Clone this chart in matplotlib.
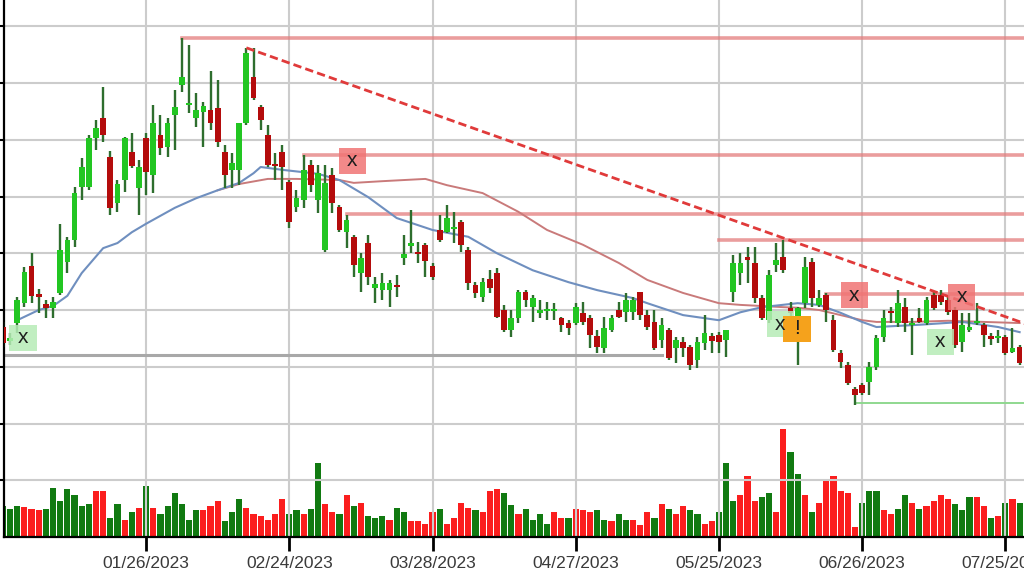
import matplotlib.pyplot as plt
from matplotlib.patches import Rectangle
import numpy as np

plt.rcParams['font.family'] = ['Liberation Sans', 'DejaVu Sans']

# daily candles, one per trading day (bar index = x position)
opens = [13.70, 13.45, 13.77, 14.12, 14.78, 14.28, 14.11, 14.04, 14.30, 14.85,
         15.23, 16.17, 16.17, 17.03, 17.38, 16.70, 15.89, 16.29, 16.78, 16.15,
         17.03, 16.38, 17.08, 16.87, 17.44, 17.96, 17.61, 17.38, 17.49, 17.52,
         17.56, 16.78, 16.47, 16.47, 17.30, 18.11, 17.58, 17.08, 16.57, 16.78,
         16.26, 15.81, 15.94, 16.55, 15.94, 15.06, 16.38, 15.81, 15.37, 15.29,
         14.65, 15.18, 14.39, 14.35, 14.35, 14.44, 14.92, 15.13, 15.02, 15.15,
         14.78, 15.41, 15.37, 15.43, 15.55, 15.06, 14.44, 14.23, 14.55, 14.65,
         14.00, 13.65, 13.86, 14.32, 14.05, 13.95, 13.98, 13.98, 13.86, 13.77,
         13.77, 13.95, 13.86, 13.54, 13.33, 13.65, 14.00, 13.96, 13.96, 14.32,
         13.91, 13.79, 13.47, 13.65, 13.33, 13.44, 13.35, 13.12, 13.42, 13.54,
         13.56, 13.47, 14.32, 14.65, 14.93, 14.83, 14.21, 13.82, 14.79, 14.93,
         14.04, 13.82, 14.12, 14.85, 14.09, 14.26, 13.82, 13.24, 13.03, 12.61,
         12.68, 12.73, 13.00, 13.52, 13.98, 13.77, 14.05, 13.74, 13.86, 13.77,
         14.26, 14.26, 14.18, 14.00, 13.44, 13.65, 13.77, 13.74, 13.54, 13.51,
         13.52, 13.26, 13.35]
highs = [13.79, 13.59, 14.23, 14.76, 15.00, 14.37, 14.18, 14.23, 15.52, 15.29,
         16.17, 16.68, 17.08, 17.35, 17.93, 16.80, 16.29, 17.05, 17.12, 16.64,
         17.12, 17.61, 17.44, 17.38, 17.88, 18.79, 18.67, 17.82, 17.67, 18.21,
         18.05, 16.91, 16.77, 17.30, 18.62, 18.62, 17.61, 17.26, 16.77, 16.91,
         16.29, 16.11, 16.73, 16.64, 16.55, 16.55, 16.50, 15.85, 15.67, 15.32,
         15.00, 15.32, 14.58, 14.65, 14.53, 14.62, 15.32, 15.76, 15.20, 15.18,
         14.83, 15.67, 15.85, 15.73, 15.59, 15.11, 14.49, 14.56, 14.70, 14.74,
         14.09, 14.00, 14.35, 14.35, 14.26, 14.18, 14.14, 14.12, 13.88, 13.82,
         14.12, 14.14, 13.91, 13.65, 13.88, 13.91, 14.14, 14.30, 14.23, 14.32,
         14.00, 14.00, 13.86, 13.68, 13.52, 13.52, 13.38, 13.52, 13.91, 13.59,
         13.61, 13.65, 14.97, 15.00, 15.11, 15.11, 14.26, 14.70, 15.18, 15.23,
         14.14, 14.05, 14.93, 14.92, 14.35, 14.30, 13.91, 13.30, 13.08, 12.64,
         12.71, 13.08, 13.56, 14.00, 14.05, 14.35, 14.21, 13.86, 14.04, 14.23,
         14.32, 14.35, 14.23, 14.05, 13.95, 13.95, 14.12, 13.77, 13.59, 13.65,
         13.56, 13.68, 13.38]
lows = [13.35, 13.38, 13.59, 14.05, 14.12, 13.95, 13.86, 13.86, 14.26, 14.65,
        15.11, 15.94, 16.11, 16.82, 16.96, 15.67, 15.73, 16.08, 16.50, 15.67,
        16.03, 16.06, 16.73, 16.70, 16.82, 17.84, 17.47, 17.22, 16.87, 17.17,
        16.87, 16.15, 16.15, 16.20, 17.26, 17.70, 17.17, 16.52, 16.29, 16.11,
        15.44, 15.73, 15.80, 16.08, 15.71, 15.02, 15.71, 15.37, 15.09, 14.58,
        14.32, 14.44, 14.12, 14.18, 14.05, 14.23, 14.79, 15.00, 14.83, 14.58,
        14.53, 15.20, 15.36, 15.18, 15.02, 14.35, 14.21, 14.14, 14.30, 13.86,
        13.61, 13.52, 13.77, 14.05, 13.79, 13.86, 13.82, 13.82, 13.61, 13.56,
        13.74, 13.74, 13.33, 13.24, 13.24, 13.61, 13.86, 13.79, 13.82, 13.82,
        13.65, 13.30, 13.33, 13.12, 13.07, 13.17, 12.94, 12.98, 13.30, 13.24,
        13.24, 13.17, 14.14, 14.44, 14.48, 14.12, 13.82, 13.77, 14.67, 14.65,
        13.47, 13.03, 14.04, 14.05, 14.05, 13.79, 13.26, 12.98, 12.68, 12.33,
        12.50, 12.50, 12.94, 13.44, 13.77, 13.70, 13.61, 13.21, 13.77, 13.74,
        14.00, 14.09, 13.91, 13.33, 13.26, 13.61, 13.74, 13.35, 13.38, 13.42,
        13.21, 13.24, 13.03]
closes = [13.42, 13.51, 14.18, 14.67, 14.25, 14.23, 14.04, 14.14, 15.06, 15.23,
          16.06, 16.52, 17.03, 17.21, 17.08, 15.80, 16.22, 17.03, 16.54, 16.52,
          16.43, 17.30, 16.85, 17.30, 17.58, 18.11, 17.65, 17.52, 17.59, 17.30,
          16.96, 16.38, 16.59, 17.30, 18.53, 17.74, 17.35, 16.55, 16.54, 16.52,
          15.55, 15.97, 16.47, 16.20, 16.41, 16.24, 15.89, 15.41, 15.59, 14.79,
          14.92, 14.58, 14.46, 14.48, 14.48, 14.41, 14.99, 15.18, 14.99, 14.86,
          14.58, 15.23, 15.62, 15.46, 15.15, 14.48, 14.30, 14.49, 14.39, 13.88,
          13.65, 13.86, 14.32, 14.18, 14.21, 14.00, 14.02, 14.02, 13.74, 13.68,
          14.05, 13.79, 13.56, 13.35, 13.68, 13.86, 13.88, 14.18, 14.18, 13.91,
          13.70, 13.33, 13.74, 13.15, 13.47, 13.33, 13.03, 13.44, 13.59, 13.45,
          13.44, 13.65, 14.83, 14.83, 14.88, 14.21, 13.86, 14.62, 14.88, 14.70,
          13.95, 14.04, 14.76, 14.21, 14.21, 14.00, 13.30, 13.08, 12.71, 12.50,
          12.54, 13.00, 13.51, 13.86, 13.95, 14.12, 13.77, 13.77, 13.79, 14.18,
          14.04, 14.14, 13.96, 13.38, 13.74, 13.70, 13.81, 13.56, 13.49, 13.54,
          13.24, 13.33, 13.07]

# volume (thousands) and its up/down colouring
volume = [307, 283, 307, 300, 283, 267, 283, 493, 360, 477,
          417, 307, 327, 457, 457, 193, 327, 173, 250, 290,
          513, 290, 227, 307, 440, 327, 173, 267, 267, 307,
          360, 157, 250, 383, 290, 227, 210, 173, 227, 383,
          227, 267, 227, 283, 740, 327, 250, 227, 417, 307,
          343, 210, 193, 210, 173, 290, 250, 157, 157, 133,
          250, 283, 133, 193, 343, 290, 267, 250, 457, 477,
          440, 323, 227, 283, 173, 227, 133, 250, 193, 193,
          283, 267, 250, 267, 173, 157, 227, 173, 173, 117,
          250, 193, 327, 283, 227, 307, 267, 227, 133, 157,
          250, 740, 360, 417, 607, 360, 400, 440, 250, 1083,
          850, 627, 417, 250, 343, 567, 607, 457, 440, 100,
          343, 457, 457, 267, 227, 283, 417, 343, 283, 307,
          360, 417, 383, 327, 267, 400, 400, 307, 193, 210,
          343, 383, 343]
vol_dir = ("gggrrrgggg" "gggrrggrgr" "grggggggrr" "rgggrrrrrr" "ggrggrrgrg"
           "rgggrggrrr" "rgrrrrgrrr" "ggrggggrrg" "rrrggrggrr" "rgrgrrggrr"
           "gggrrrggrr" "ggrgrrrrrr" "gggrrggrgr" "rrrgggrrgr" "grg")

# moving averages
ma_fast_x = [2, 5, 7, 9, 11, 14, 16, 18, 20, 24, 27, 30, 33, 35, 36, 39, 44, 47, 51, 55, 60,
             65, 69, 74, 79, 83, 88, 90, 95, 100, 103, 106, 111, 114, 117, 120, 122, 128,
             134, 139, 142]
ma_fast = [13.82, 14.00, 14.07, 14.25, 14.65, 15.09, 15.18, 15.37, 15.52, 15.80, 15.97,
           16.11, 16.24, 16.41, 16.52, 16.47, 16.40, 16.29, 15.99, 15.62, 15.41, 15.29,
           15.00, 14.70, 14.49, 14.35, 14.21, 14.12, 13.91, 13.82, 13.96, 14.05, 14.12,
           14.09, 13.95, 13.79, 13.70, 13.74, 13.79, 13.70, 13.61]
ma_slow_x = [30, 33, 37, 41, 47, 49, 53, 59, 62, 67, 72, 76, 81, 86, 90, 95, 100, 103, 106,
             109, 111, 114, 117, 120, 122, 127, 132, 137, 142]
ma_slow = [16.11, 16.22, 16.31, 16.31, 16.29, 16.24, 16.27, 16.31, 16.20, 16.06, 15.73,
           15.41, 15.15, 14.83, 14.53, 14.30, 14.12, 14.09, 14.07, 14.05, 14.04, 14.00,
           13.91, 13.82, 13.79, 13.79, 13.81, 13.79, 13.77]

# horizontal levels: (start bar, price)
resist_start = [25, 42, 48, 100, 115]
resist_price = [18.79, 16.73, 15.69, 15.23, 14.28]
support_start = [119]
support_price = [12.36]
base_end = 92
base_price = 13.21

# trendline through two highs
trend_x = [34, 130]
trend_y = [18.62, 14.33]

# signal boxes: bar, price, kind
sig_x = [2.8, 48.8, 108.6, 110.9, 118.9, 130.9, 133.9]
sig_y = [13.51, 16.63, 13.75, 13.67, 14.26, 13.44, 14.23]
sig_kind = ['buy', 'sell', 'buy', 'warn', 'sell', 'buy', 'sell']

tick_pos = [20, 40, 60, 80, 100, 120, 140]
tick_lab = ['01/26/2023', '02/24/2023', '03/28/2023', '04/27/2023',
            '05/25/2023', '06/26/2023', '07/25/2023']

o = np.array(opens); h = np.array(highs); l = np.array(lows); c = np.array(closes)
idx = np.arange(len(o))
xmax = 143.45

fig = plt.figure(figsize=(10.24, 5.84), dpi=100)
ax = fig.add_axes([4 / 1024, 47 / 584, 1026 / 1024, 537 / 584])
axv = ax.twinx()
ax.set_zorder(axv.get_zorder() + 1)
ax.patch.set_visible(False)

# volume
axv.bar(idx, volume, width=0.86, color=['#117a11' if d == 'g' else '#fb1e1e' for d in vol_dir],
        linewidth=0)
axv.set_ylim(0, 5370)
axv.set_yticks([])
for s in axv.spines.values():
    s.set_visible(False)

# levels
for xs, p in zip(resist_start, resist_price):
    ax.plot([xs, xmax], [p, p], color='#e47c7c', lw=2.6, alpha=0.75, zorder=2)
for xs, p in zip(support_start, support_price):
    ax.plot([xs, xmax], [p, p], color='#8fd88f', lw=1.4, zorder=2)
ax.plot([-1, base_end], [base_price, base_price], color='#a8a8a8', lw=2.2, zorder=2)

# moving averages
ax.plot(ma_slow_x, ma_slow, color='#c97a7a', lw=1.4, zorder=2.5)
ax.plot(ma_fast_x, ma_fast, color='#6f8fbf', lw=1.5, zorder=2.6)

# candles
up = c >= o
ax.vlines(idx, l, h, color='#2e6e2e', lw=1.7, zorder=3)
body = np.maximum(np.abs(c - o), 0.03)
ax.bar(idx, body, bottom=np.minimum(o, c), width=0.8,
       color=np.where(up, '#22c622', '#b40c0c'), linewidth=0, zorder=4)

# trendline
slope = (trend_y[1] - trend_y[0]) / (trend_x[1] - trend_x[0])
ax.plot([trend_x[0], xmax], [trend_y[0], trend_y[0] + slope * (xmax - trend_x[0])],
        color='#e03a3a', lw=2, ls=(0, (3, 1.5)), zorder=5)

# signal boxes
box_w, box_h = 3.8, 0.46
styles = {'buy': ('#b6ecb6', 0.85, 'x'), 'sell': ('#f07474', 0.85, 'x'),
          'warn': ('#f5a21c', 1.0, '!')}
for sx, sy, k in zip(sig_x, sig_y, sig_kind):
    fc, a, t = styles[k]
    ax.add_patch(Rectangle((sx - box_w / 2, sy - box_h / 2), box_w, box_h,
                           facecolor=fc, alpha=a, edgecolor='none', zorder=6))
    ax.text(sx, sy, t, ha='center', va='center', fontsize=15, color='#1e1e1e', zorder=7)

ax.set_xlim(0.15, xmax)
ax.set_ylim(10, 10 + 537 / 56.75)
ax.set_xticks(tick_pos)
ax.set_xticklabels(tick_lab)
ax.set_yticks(range(11, 20))
ax.set_yticklabels([])
ax.grid(True, color='#cccccc', lw=1.5, zorder=0)
ax.set_axisbelow(True)
ax.tick_params(axis='x', direction='out', length=10, width=2, color='black',
               labelsize=12.5, labelcolor='#3a3a3a', pad=4)
ax.tick_params(axis='y', direction='out', length=5, width=1.5, color='black')
for s in ['top', 'right']:
    ax.spines[s].set_visible(False)
for s in ['left', 'bottom']:
    ax.spines[s].set_linewidth(1.6)

fig.savefig('out.png', dpi=100)
